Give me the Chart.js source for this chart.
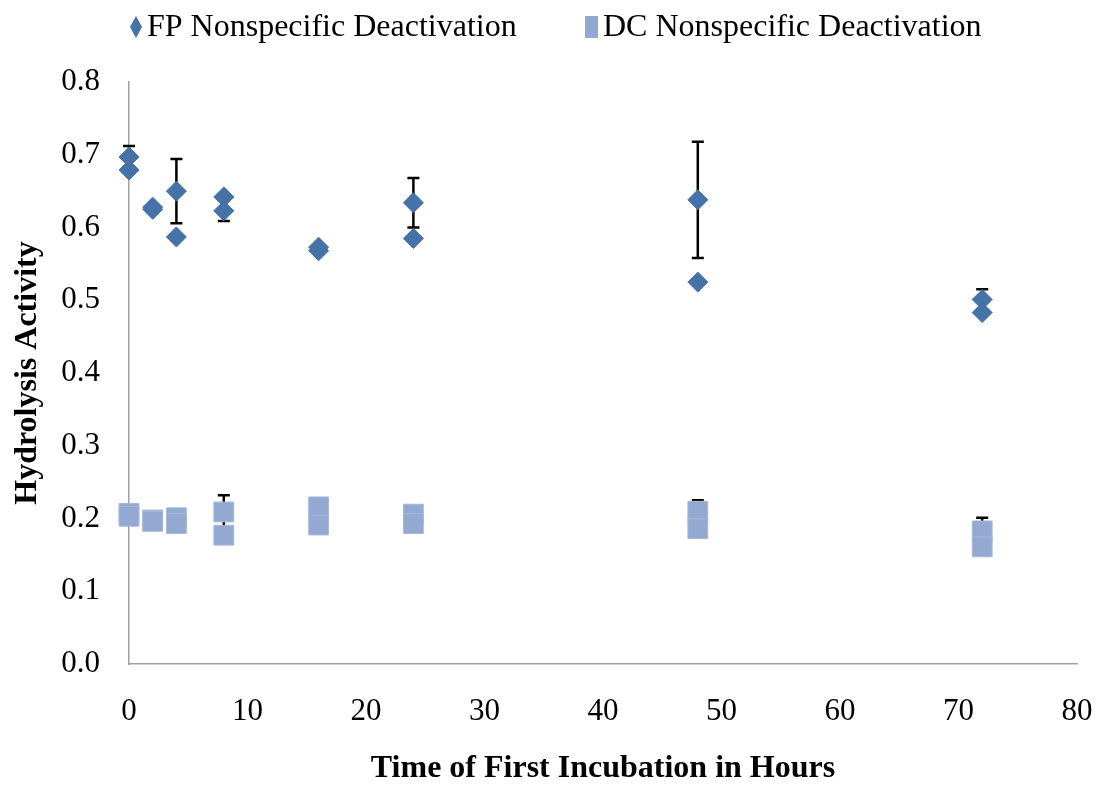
<!DOCTYPE html>
<html>
<head>
<meta charset="utf-8">
<script src="https://cdn.jsdelivr.net/npm/chart.js@4.4.1/dist/chart.umd.min.js"></script>
<style>
  html, body { margin: 0; padding: 0; background: #fff; }
  canvas { display: block; }
</style>
</head>
<body>
<canvas id="chart" width="1099" height="785"></canvas>
<script>
// FP nonspecific deactivation (two replicates per time point)
const fpHours = [0, 0, 2, 2, 4, 4, 8, 8, 16, 16, 24, 24, 48, 48, 72, 72];
const fpActivity = [0.697, 0.679, 0.628, 0.625, 0.650, 0.587, 0.642, 0.623, 0.573, 0.568, 0.634, 0.585, 0.638, 0.525, 0.501, 0.483];
const fpError = [0.015, null, null, null, 0.044, null, null, 0.014, null, null, 0.034, null, 0.080, null, 0.014, null];

// DC nonspecific deactivation
const dcHours = [0, 0, 2, 2, 4, 4, 8, 8, 16, 16, 24, 24, 48, 48, 72, 72];
const dcActivity = [0.207, 0.203, 0.198, 0.196, 0.201, 0.193, 0.209, 0.177, 0.216, 0.191, 0.206, 0.193, 0.210, 0.186, 0.183, 0.161];
const dcError = [null, null, null, null, null, null, 0.023, null, null, null, null, null, 0.015, null, 0.018, null];

const xTicks = [0, 10, 20, 30, 40, 50, 60, 70, 80];
const yTicks = [0, 0.1, 0.2, 0.3, 0.4, 0.5, 0.6, 0.7, 0.8];

const legendLabels = ["FP Nonspecific Deactivation", "DC Nonspecific Deactivation"];

const fpColor = "#4572A7";
const dcColor = "#93A9D1";

const toPoints = (xs, ys) => xs.map((x, i) => ({ x: x, y: ys[i] }));

// error bars go under the markers, like in Excel
const errorBars = {
  id: "errorBars",
  beforeDatasetsDraw(chart) {
    const { ctx, scales } = chart;
    const xs = scales.x, ys = scales.y;
    ctx.save();
    ctx.strokeStyle = "#000";
    ctx.lineWidth = 2.5;
    chart.data.datasets.forEach(ds => {
      (ds.errors || []).forEach((err, i) => {
        if (err == null) return;
        const p = ds.data[i];
        const px = xs.getPixelForValue(p.x);
        const top = ys.getPixelForValue(p.y + err);
        const bot = ys.getPixelForValue(p.y - err);
        ctx.beginPath();
        ctx.moveTo(px, top);
        ctx.lineTo(px, bot);
        ctx.moveTo(px - 6, top);
        ctx.lineTo(px + 6, top);
        ctx.moveTo(px - 6, bot);
        ctx.lineTo(px + 6, bot);
        ctx.stroke();
      });
    });
    ctx.restore();
  }
};

// legend drawn by hand to get Excel's narrow markers
const topLegend = {
  id: "topLegend",
  afterDraw(chart) {
    const ctx = chart.ctx;
    ctx.save();
    ctx.font = '32px "Liberation Serif"';
    ctx.textBaseline = "middle";
    const cy = 27;
    // diamond
    ctx.fillStyle = fpColor;
    ctx.beginPath();
    ctx.moveTo(136, cy - 11);
    ctx.lineTo(142, cy);
    ctx.lineTo(136, cy + 11);
    ctx.lineTo(130, cy);
    ctx.closePath();
    ctx.fill();
    ctx.fillStyle = "#000";
    ctx.fillText(legendLabels[0], 147, cy + 1);
    // square
    ctx.fillStyle = dcColor;
    ctx.fillRect(585, cy - 11, 13, 22);
    ctx.fillStyle = "#000";
    ctx.fillText(legendLabels[1], 603, cy + 1);
    ctx.restore();
  }
};

new Chart(document.getElementById("chart"), {
  type: "scatter",
  data: {
    datasets: [
      {
        label: legendLabels[1],
        data: toPoints(dcHours, dcActivity),
        errors: dcError,
        pointStyle: "rect",
        pointRadius: 14,
        pointHoverRadius: 14,
        backgroundColor: dcColor,
        borderColor: "#A7B9DA",
        borderWidth: 1,
        clip: false
      },
      {
        label: legendLabels[0],
        data: toPoints(fpHours, fpActivity),
        errors: fpError,
        pointStyle: "rectRot",
        pointRadius: 10,
        pointHoverRadius: 10,
        backgroundColor: fpColor,
        borderColor: fpColor,
        borderWidth: 1,
        clip: false
      }
    ]
  },
  options: {
    responsive: false,
    animation: false,
    devicePixelRatio: 1,
    layout: { padding: { top: 82, right: 22, bottom: 0, left: 0 } },
    plugins: {
      legend: { display: false },
      tooltip: { enabled: false }
    },
    scales: {
      x: {
        type: "linear",
        min: 0,
        max: 80,
        afterBuildTicks: s => { s.ticks = xTicks.map(v => ({ value: v })); },
        afterFit: s => { s.height = 121; s.paddingLeft = 0; s.paddingRight = 0; },
        grid: { display: false, drawTicks: false },
        border: { display: true, color: "#A0A0A0", width: 1.5 },
        ticks: {
          padding: 29,
          color: "#000",
          font: { family: "Liberation Serif", size: 31 },
          maxRotation: 0
        },
        title: {
          display: true,
          text: "Time of First Incubation in Hours",
          color: "#000",
          font: { family: "Liberation Serif", size: 32, weight: "bold", lineHeight: 1 },
          padding: { top: 0, bottom: 0 }
        }
      },
      y: {
        min: 0,
        max: 0.8,
        afterBuildTicks: s => { s.ticks = yTicks.map(v => ({ value: v })); },
        afterFit: s => { s.width = 129; },
        grid: { display: false, drawTicks: false },
        border: { display: true, color: "#A0A0A0", width: 1.5 },
        ticks: {
          padding: 29,
          color: "#000",
          font: { family: "Liberation Serif", size: 31 },
          callback: v => Number(v).toFixed(1)
        },
        title: {
          display: true,
          text: "Hydrolysis Activity",
          color: "#000",
          font: { family: "Liberation Serif", size: 32, weight: "bold", lineHeight: 1 },
          padding: { top: 12, bottom: 0 }
        }
      }
    }
  },
  plugins: [errorBars, topLegend]
});
</script>
</body>
</html>
